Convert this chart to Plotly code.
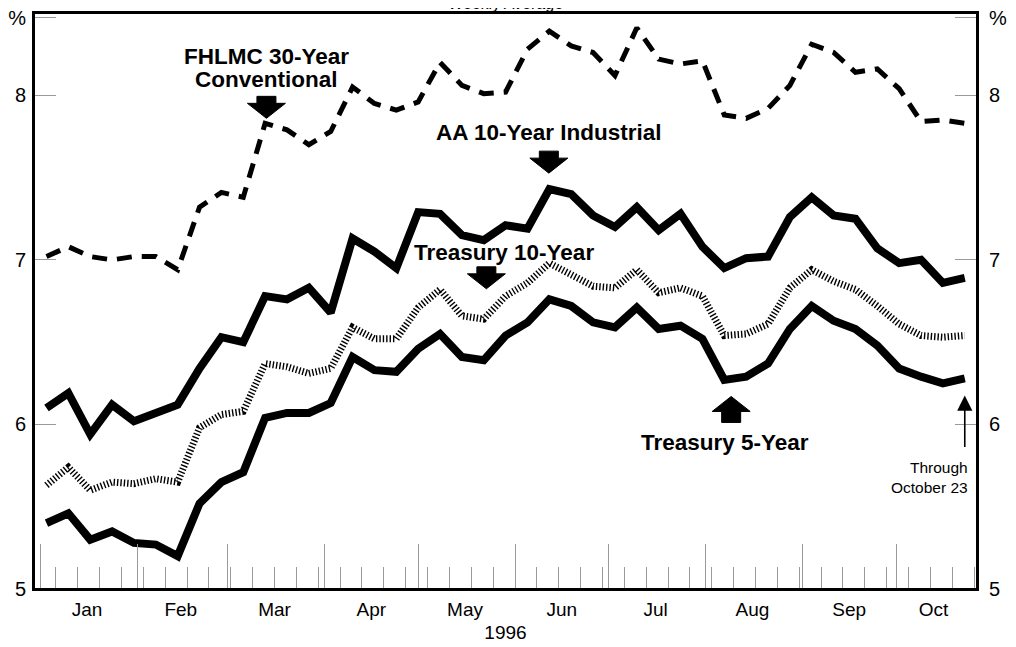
import plotly.graph_objects as go

# ---------------- data (weekly, 1996) ----------------
dates = [
    "1996-01-03", "1996-01-10", "1996-01-17", "1996-01-24", "1996-01-31",
    "1996-02-07", "1996-02-14", "1996-02-21", "1996-02-28",
    "1996-03-06", "1996-03-13", "1996-03-20", "1996-03-27",
    "1996-04-03", "1996-04-10", "1996-04-17", "1996-04-24",
    "1996-05-01", "1996-05-08", "1996-05-15", "1996-05-22", "1996-05-29",
    "1996-06-05", "1996-06-12", "1996-06-19", "1996-06-26",
    "1996-07-03", "1996-07-10", "1996-07-17", "1996-07-24", "1996-07-31",
    "1996-08-07", "1996-08-14", "1996-08-21", "1996-08-28",
    "1996-09-04", "1996-09-11", "1996-09-18", "1996-09-25",
    "1996-10-02", "1996-10-09", "1996-10-16", "1996-10-23",
]

fhlmc_30yr = [7.02, 7.08, 7.02, 7.00, 7.02, 7.02, 6.94, 7.32, 7.41, 7.38,
              7.83, 7.79, 7.70, 7.78, 8.05, 7.95, 7.91, 7.96, 8.20, 8.06,
              8.01, 8.02, 8.28, 8.39, 8.30, 8.26, 8.12, 8.41, 8.22, 8.19,
              8.21, 7.88, 7.86, 7.92, 8.06, 8.31, 8.26, 8.14, 8.16, 8.04,
              7.84, 7.85, 7.83]

aa_10yr_industrial = [6.10, 6.19, 5.94, 6.12, 6.02, 6.07, 6.12, 6.34, 6.53, 6.50,
                      6.78, 6.76, 6.83, 6.68, 7.13, 7.05, 6.95, 7.29, 7.28, 7.15,
                      7.12, 7.21, 7.19, 7.43, 7.40, 7.27, 7.20, 7.32, 7.18, 7.28,
                      7.08, 6.95, 7.01, 7.02, 7.26, 7.38, 7.27, 7.25, 7.07, 6.98,
                      7.00, 6.86, 6.89]

treasury_10yr = [5.63, 5.74, 5.60, 5.65, 5.64, 5.67, 5.65, 5.98, 6.06, 6.08,
                 6.37, 6.35, 6.31, 6.34, 6.59, 6.52, 6.52, 6.71, 6.82, 6.66,
                 6.64, 6.78, 6.86, 6.98, 6.91, 6.84, 6.83, 6.94, 6.80, 6.83,
                 6.78, 6.54, 6.55, 6.61, 6.83, 6.94, 6.87, 6.82, 6.72, 6.61,
                 6.54, 6.53, 6.54]

treasury_5yr = [5.40, 5.46, 5.30, 5.35, 5.28, 5.27, 5.20, 5.52, 5.65, 5.71,
                6.04, 6.07, 6.07, 6.13, 6.41, 6.33, 6.32, 6.46, 6.55, 6.41,
                6.39, 6.54, 6.62, 6.76, 6.72, 6.62, 6.59, 6.71, 6.58, 6.60,
                6.52, 6.27, 6.29, 6.37, 6.58, 6.72, 6.63, 6.58, 6.48, 6.34,
                6.29, 6.25, 6.28]

month_starts = ["1996-01-01", "1996-02-01", "1996-03-01", "1996-04-01", "1996-05-01",
                "1996-06-01", "1996-07-01", "1996-08-01", "1996-09-01", "1996-10-01"]
month_label_dates = ["1996-01-16", "1996-02-15", "1996-03-16", "1996-04-16", "1996-05-16",
                     "1996-06-16", "1996-07-16", "1996-08-16", "1996-09-16", "1996-10-13"]
month_labels = ["Jan", "Feb", "Mar", "Apr", "May", "Jun", "Jul", "Aug", "Sep", "Oct"]
y_tick_vals = [5, 6, 7, 8, 8.47]
y_tick_text = ["5", "6", "7", "8", "%"]

FONT = "Liberation Sans, Arial, Helvetica, sans-serif"
X_RANGE = ["1995-12-30 00:00", "1996-10-26 22:00"]
Y_RANGE = [5, 8.5]
TICK_GREY = "#9a9a9a"

fig = go.Figure()

fig.add_trace(go.Scatter(x=dates, y=fhlmc_30yr, mode="lines", name="FHLMC 30-Year Conventional",
                         line=dict(color="black", width=5, dash="15px,10px")))
fig.add_trace(go.Scatter(x=dates, y=aa_10yr_industrial, mode="lines", name="AA 10-Year Industrial",
                         line=dict(color="black", width=8)))
fig.add_trace(go.Scatter(x=dates, y=treasury_10yr, mode="lines", name="Treasury 10-Year",
                         line=dict(color="black", width=7, dash="1.4px,2px")))
fig.add_trace(go.Scatter(x=dates, y=treasury_5yr, mode="lines", name="Treasury 5-Year",
                         line=dict(color="black", width=8)))
# invisible trace that carries the secondary (label / right-hand) axes
fig.add_trace(go.Scatter(x=dates, y=treasury_5yr, mode="lines", xaxis="x2", yaxis="y2",
                         line=dict(width=0), opacity=0, hoverinfo="skip", showlegend=False))

# block arrow outline in pixels relative to its tip (positive = up)
DOWN_ARROW = "M 0 0 L -19 15 L -9.5 15 L -9.5 22 L 9.5 22 L 9.5 15 L 19 15 Z"
UP_ARROW = "M 0 0 L -19 -15 L -9.5 -15 L -9.5 -26 L 9.5 -26 L 9.5 -15 L 19 -15 Z"


def block_arrow(x, y, path):
    return dict(type="path", xref="x", yref="y", xsizemode="pixel", ysizemode="pixel",
                xanchor=x, yanchor=y, path=path,
                fillcolor="black", line=dict(color="black", width=1), layer="above")


shapes = [
    block_arrow("1996-03-13 10:00", 7.86, DOWN_ARROW),
    block_arrow("1996-06-11 20:00", 7.527, DOWN_ARROW),
    block_arrow("1996-05-22 20:00", 6.824, DOWN_ARROW),
    block_arrow("1996-08-09 05:00", 6.17, UP_ARROW),
    dict(type="rect", xref="paper", yref="paper", x0=0, x1=1, y0=0, y1=1,
         line=dict(color="black", width=2), layer="above"),
]

label_font = dict(family=FONT, size=22.5, color="black")
annotations = [
    dict(x=0.5, y=1.0, xref="paper", yref="paper", yanchor="bottom", yshift=-1,
         text="Weekly Average", showarrow=False, font=dict(family=FONT, size=16, color="black")),
    dict(x="1996-03-13 14:00", y=8.236, xref="x", yref="y", text="<b>FHLMC 30-Year</b>",
         showarrow=False, font=label_font),
    dict(x="1996-03-13 14:00", y=8.097, xref="x", yref="y", text="<b>Conventional</b>",
         showarrow=False, font=label_font),
    dict(x="1996-06-11 22:00", y=7.776, xref="x", yref="y", text="<b>AA 10-Year Industrial</b>",
         showarrow=False, font=label_font),
    dict(x="1996-05-28 12:00", y=7.042, xref="x", yref="y", text="<b>Treasury 10-Year</b>",
         showarrow=False, font=label_font),
    dict(x="1996-08-07 08:00", y=5.89, xref="x", yref="y", text="<b>Treasury 5-Year</b>",
         showarrow=False, font=label_font),
    dict(x="1996-10-23", y=6.176, xref="x", yref="y", text="", showarrow=True,
         arrowhead=2, arrowwidth=1.6, arrowsize=1.9, arrowcolor="black", ax=0, ay=53),
    dict(x="1996-10-24 16:00", y=5.68, xref="x", yref="y", xanchor="right", align="right",
         text="Through<br>October 23", showarrow=False, font=dict(family=FONT, size=15.5, color="black")),
]

# the page body adds an 8 px offset, so the figure is 8 px smaller on each axis
fig.update_layout(
    width=1008, height=639,
    margin=dict(l=26, r=39, t=5, b=58, autoexpand=False),
    plot_bgcolor="white", paper_bgcolor="white",
    showlegend=False,
    font=dict(family=FONT, size=19, color="black"),
    annotations=annotations,
    shapes=shapes,
    xaxis=dict(
        type="date", range=X_RANGE, tickmode="array", tickvals=month_starts,
        showticklabels=False, ticks="inside", ticklen=45, tickcolor=TICK_GREY, tickwidth=1,
        minor=dict(ticks="inside", ticklen=22, tickcolor=TICK_GREY, tickwidth=1,
                   dtick=7 * 86400000, tick0="1996-01-06", showgrid=False),
        showgrid=False, zeroline=False, automargin=False,
        showline=True, linecolor="black", linewidth=2, mirror=True,
    ),
    xaxis2=dict(
        type="date", overlaying="x", matches="x", anchor="y", side="bottom",
        tickmode="array", tickvals=month_label_dates, ticktext=month_labels,
        ticks="", showgrid=False, zeroline=False, showline=False, automargin=False,
        ticklabelstandoff=7, tickfont=dict(family=FONT, size=19),
        title=dict(text="1996", font=dict(family=FONT, size=19), standoff=6),
    ),
    yaxis=dict(
        range=Y_RANGE, tickmode="array", tickvals=y_tick_vals, ticktext=y_tick_text,
        ticks="inside", ticklen=22, tickcolor=TICK_GREY, tickwidth=1,
        showgrid=False, zeroline=False, automargin=False, ticklabeloverflow="allow",
        showline=True, linecolor="black", linewidth=2, mirror=True,
        ticklabelstandoff=2, tickfont=dict(family=FONT, size=20),
    ),
    yaxis2=dict(
        overlaying="y", matches="y", side="right", anchor="x",
        tickmode="array", tickvals=y_tick_vals, ticktext=y_tick_text,
        ticks="inside", ticklen=22, tickcolor=TICK_GREY, tickwidth=1,
        showgrid=False, zeroline=False, showline=False, automargin=False,
        ticklabeloverflow="allow",
        ticklabelstandoff=11, tickfont=dict(family=FONT, size=20),
    ),
)

fig.write_html("out.html")
